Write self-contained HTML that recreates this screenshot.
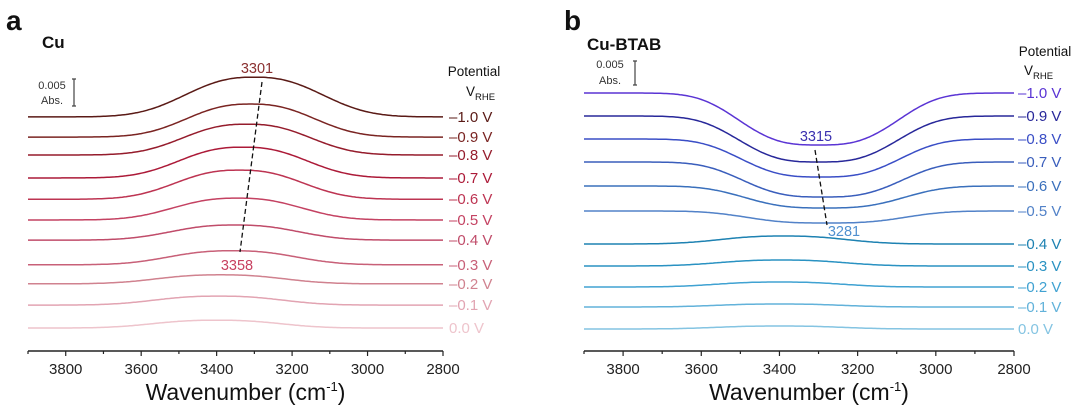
<!DOCTYPE html>
<html><head><meta charset="utf-8"><style>
html,body{margin:0;padding:0;background:#fff}
svg{display:block;font-family:"Liberation Sans",Arial,sans-serif}
</style></head><body>
<svg id="chart" width="1080" height="411" viewBox="0 0 1080 411" xmlns="http://www.w3.org/2000/svg"></svg>
<script>
const potentials = ["\u20131.0 V","\u20130.9 V","\u20130.8 V","\u20130.7 V","\u20130.6 V","\u20130.5 V","\u20130.4 V","\u20130.3 V","\u20130.2 V","\u20130.1 V","0.0 V"];
const tickLabels = [3800,3600,3400,3200,3000,2800];
// panel a (Cu) - mAbs
const cuOffsets = [41.8,38.2,35.0,30.9,27.1,23.4,19.8,15.4,12.0,8.2,4.1];
const cuAmps = [7.1,5.9,5.5,5.5,5.2,3.9,2.7,2.5,1.6,1.6,1.4];
const cuCenters = [3301,3310,3320,3330,3340,3345,3352,3358,3390,3395,3400];
// panel b (Cu-BTAB) - mAbs
const btOffsets = [51.6,47.0,42.4,37.8,33.0,28.0,21.4,17.0,12.8,8.8,4.4];
const btAmps = [-10.4,-9.2,-7.6,-7.0,-4.4,-2.4,1.6,1.2,1.0,0.6,0.6];
const btCenters = [3300,3300,3295,3290,3285,3281,3390,3395,3400,3400,3400];

const cuColors = ["#5a1a16","#7a2422","#951c2c","#ac1a38","#bd3452","#c44262","#c04c6a","#c86078","#d0828f","#e2a4b2","#eec4cc"];
const btColors = ["#5a34d4","#28289a","#3a4ec6","#3a5ebc","#3a70bc","#5282c8","#1e82b2","#2a92c2","#40a2d2","#62b2da","#84c4e2"];
const NS="http://www.w3.org/2000/svg";
const svg=document.getElementById('chart');
function el(tag,attrs,parent){const e=document.createElementNS(NS,tag);for(const k in attrs)e.setAttribute(k,attrs[k]);(parent||svg).appendChild(e);return e;}
function txt(s,attrs,parent){const t=el('text',attrs,parent);t.textContent=s;return t;}

function panel(cfg){
  const g=el('g',{});
  
  
  const xs=w=>cfg.x0+(3900-w)/1100*(cfg.x1-cfg.x0);
  const ys=v=>cfg.axisY-v*cfg.pxPer;
  const ax=el('g',{},g);
  
  
  el('line',{x1:cfg.x0,x2:cfg.x1,y1:cfg.axisY,y2:cfg.axisY,stroke:'#222','stroke-width':1.6},ax);
  for(let w=3900;w>=2800;w-=100){
    const major=(w%200===0);
    el('line',{x1:xs(w),x2:xs(w),y1:cfg.axisY,y2:cfg.axisY+(major?5:3),stroke:'#222','stroke-width':1.2},ax);
  }
  tickLabels.forEach(t=>{
    const tl=txt(String(t),{x:xs(t),y:cfg.axisY+23,'font-size':15,'text-anchor':'middle',fill:'#222'},ax);
    
    
  });
  const title=txt('',{x:(cfg.x0+cfg.x1)/2+10,y:cfg.axisY+49,'font-size':23,'text-anchor':'middle',fill:'#111'},g);
  title.innerHTML='Wavenumber (cm<tspan dy="-9" font-size="13">-1</tspan><tspan dy="9">)</tspan>';
  
  
  for(let i=0;i<potentials.length;i++){
    let d='';
    for(let w=3900;w>=2800;w-=5){
      const dd=Math.abs(w-cfg.centers[i])/cfg.sigma(i);
      const v=cfg.offsets[i]+cfg.amps[i]*Math.exp(-Math.pow(dd,cfg.pow(i)));
      d+=(w===3900?'M':'L')+xs(w).toFixed(1)+','+ys(v).toFixed(1);
    }
    const p=el('path',{d:d,fill:'none',stroke:cfg.colors[i],'stroke-width':1.5},g);
    
    
    const lab=txt(potentials[i],{x:cfg.labelX,y:ys(cfg.offsets[i])+5,'font-size':15,fill:cfg.colors[i]},g);
    
    
  }
  return {g,xs,ys};
}

panel({name:'panel-a-cu',x0:28,x1:443,axisY:351,pxPer:5.6,offsets:cuOffsets,amps:cuAmps,centers:cuCenters,colors:cuColors,labelX:449,
  sigma:i=>i===0?225:210,pow:i=>2.5});
panel({name:'panel-b-cu-btab',x0:584,x1:1014,axisY:351,pxPer:5,offsets:btOffsets,amps:btAmps,centers:btCenters,colors:btColors,labelX:1018,
  sigma:i=>btAmps[i]<0?235:200,pow:i=>btAmps[i]<0?3:2.5});

function named(e,n){return e;}
named(txt('a',{x:6,y:30,'font-size':28,'font-weight':'bold',fill:'#111'}),'panel-letter-a');
named(txt('Cu',{x:42,y:48,'font-size':17,'font-weight':'bold',fill:'#111'}),'panel-title-cu');
named(txt('b',{x:564,y:30,'font-size':28,'font-weight':'bold',fill:'#111'}),'panel-letter-b');
named(txt('Cu-BTAB',{x:587,y:50,'font-size':17,'font-weight':'bold',fill:'#111'}),'panel-title-cu-btab');
named(txt('0.005',{x:52,y:89,'font-size':11,'text-anchor':'middle',fill:'#333'}),'scale-bar-value');
named(txt('Abs.',{x:52,y:104,'font-size':11,'text-anchor':'middle',fill:'#333'}),'scale-bar-unit');
named(el('path',{d:'M72,79 H76 M74,79 V106 M72,106 H76',stroke:'#444','stroke-width':1.2,fill:'none'}),'scale-bar-a');
named(txt('0.005',{x:610,y:68,'font-size':11,'text-anchor':'middle',fill:'#333'}),'scale-bar-value');
named(txt('Abs.',{x:610,y:84,'font-size':11,'text-anchor':'middle',fill:'#333'}),'scale-bar-unit');
named(el('path',{d:'M633,61 H637 M635,61 V85 M633,85 H637',stroke:'#444','stroke-width':1.2,fill:'none'}),'scale-bar-b');
named(txt('Potential',{x:474,y:76,'font-size':13.5,'text-anchor':'middle',fill:'#111'}),'legend-title-a');
const v1=named(txt('',{x:466,y:96,'font-size':13.5,fill:'#111'}),'legend-unit-a');
v1.innerHTML='V<tspan dy="4" font-size="9.5">RHE</tspan>';
named(txt('Potential',{x:1045,y:56,'font-size':13.5,'text-anchor':'middle',fill:'#111'}),'legend-title-b');
const v2=named(txt('',{x:1024,y:75,'font-size':13.5,fill:'#111'}),'legend-unit-b');
v2.innerHTML='V<tspan dy="4" font-size="9.5">RHE</tspan>';
named(el('line',{x1:262,y1:82,x2:240,y2:252,stroke:'#111','stroke-width':1.3,'stroke-dasharray':'5,3'}),'peak-shift-line-a');
named(txt('3301',{x:257,y:73,'font-size':14.5,'text-anchor':'middle',fill:'#8a3030'}),'peak-label-3301');
named(txt('3358',{x:237,y:270,'font-size':14.5,'text-anchor':'middle',fill:'#c84060'}),'peak-label-3358');
named(el('line',{x1:815,y1:150,x2:827,y2:225,stroke:'#111','stroke-width':1.3,'stroke-dasharray':'5,3'}),'peak-shift-line-b');
named(txt('3315',{x:816,y:141,'font-size':14.5,'text-anchor':'middle',fill:'#3a30b0'}),'peak-label-3315');
named(txt('3281',{x:844,y:236,'font-size':14.5,'text-anchor':'middle',fill:'#5090d0'}),'peak-label-3281');
</script>
</body></html>
